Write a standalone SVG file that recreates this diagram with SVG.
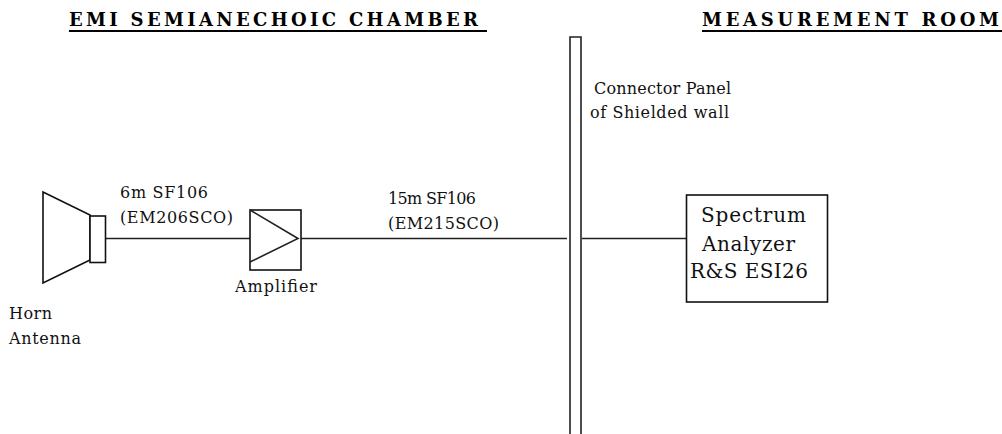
<svg xmlns="http://www.w3.org/2000/svg" width="1002" height="434" viewBox="0 0 1002 434">
<style>
text{font-family:"DejaVu Serif","Liberation Serif",serif;fill:#111;font-size:16px}
.h{font-weight:bold;font-size:18px;fill:#000}
.b{font-size:20px}
.s{fill:#fff;stroke:#111;stroke-width:1.6}
.c{fill:none;stroke:#222;stroke-width:1.6}
.u{fill:none;stroke:#000;stroke-width:2}
</style>
<rect width="1002" height="434" fill="#fff"/>
<g id="headings">
<text class="h" x="69" y="25.500" textLength="409" lengthAdjust="spacing">EMI SEMIANECHOIC CHAMBER</text>
<path class="u" d="M69 31H487"/>
<text class="h" x="702" y="25.500" textLength="297" lengthAdjust="spacing">MEASUREMENT ROOM</text>
<path class="u" d="M702 31H1002"/>
</g>
<g id="connectors">
<path class="c" d="M106 238.5H250"/>
<path class="c" d="M301 238.5H567"/>
<path class="c" d="M582 238.5H686"/>
</g>
<g id="horn-antenna">
<path class="s" d="M43 192L90 215V260L43 283Z"/>
<rect class="s" x="90" y="216" width="15.500" height="46.500"/>
<text x="9" y="319" textLength="43">Horn</text>
<text x="9" y="344" textLength="72">Antenna</text>
</g>
<g id="amplifier">
<rect class="s" x="250" y="210" width="51" height="60"/>
<path class="c" d="M250 210L298 238.500L250 262"/>
<text x="235" y="292" textLength="82">Amplifier</text>
</g>
<g id="cable-6m">
<text x="120" y="198" textLength="88">6m SF106</text>
<text x="120" y="222.500" textLength="113">(EM206SCO)</text>
</g>
<g id="cable-15m">
<text x="388" y="204" textLength="88">15m SF106</text>
<text x="388" y="228.500" textLength="111">(EM215SCO)</text>
</g>
<g id="wall">
<path class="c" d="M570 434V37H581V434"/>
<text x="594" y="94" textLength="137">Connector Panel</text>
<text x="590" y="118" textLength="139">of Shielded wall</text>
</g>
<g id="spectrum-analyzer">
<rect class="s" x="686.500" y="195" width="141" height="107"/>
<text class="b" x="701" y="222" textLength="105">Spectrum</text>
<text class="b" x="702" y="250.500" textLength="93">Analyzer</text>
<text class="b" x="690" y="278" textLength="118">R&amp;S ESI26</text>
</g>
</svg>
